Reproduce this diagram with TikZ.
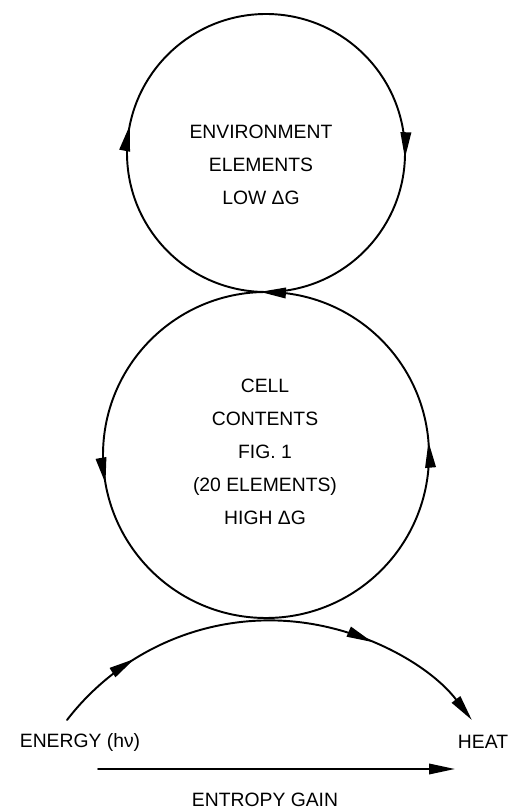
\documentclass[tikz,border=0pt]{standalone}
\usepackage{fontspec}
\setmainfont{Liberation Sans}
\usetikzlibrary{arrows.meta,decorations.markings}
\tikzset{
  >={Triangle[length=5.2mm,width=2.1mm]},
  label text/.style={font=\fontsize{11}{18.8}\selectfont, align=center, inner sep=0pt},
  flow/.style={line width=1.1pt}
}

\begin{document}
\begin{tikzpicture}[line cap=round,line join=round,x=0.02cm,y=0.02cm]
\useasboundingbox (0,0) rectangle (516,809);
\coordinate (envc) at (266,656);
\coordinate (cellc) at (266,354);
\coordinate (arcstart) at (67,89);
\coordinate (gainstart) at (98,40);
\coordinate (gainend) at (455,40);

\draw [flow,postaction={decorate},decoration={markings,
        mark=at position 0.256 with {\arrow{>}},
        mark=at position 0.507 with {\arrow{>}},
        mark=at position 0.782 with {\arrow{>}}}]
  ([shift={(90:139)}]envc) arc[start angle=90,end angle=-270,radius=139];
\draw [flow,postaction={decorate},decoration={markings,
        mark=at position 0.278 with {\arrow{>}},
        mark=at position 0.763 with {\arrow{>}}}]
  ([shift={(90:163)}]cellc) arc[start angle=90,end angle=450,radius=163];
\draw [flow,->,postaction={decorate},decoration={markings,
        mark=at position 0.196 with {\arrow{>}},
        mark=at position 0.727 with {\arrow{>}}}]
  (arcstart) arc[start angle=142.4,end angle=37.6,radius=255.5];
\draw [flow,->] (gainstart) -- (gainend);

\node [label text] (envtext) at (261,644) {ENVIRONMENT\\ELEMENTS\\LOW ΔG};
\node [label text] (celltext) at (265,357) {CELL\\CONTENTS\\FIG. 1\\(20 ELEMENTS)\\HIGH ΔG};
\node [label text] (energy) at (80,67) {ENERGY (hν)};
\node [label text] (heat) at (483,67) {HEAT};
\node [label text] (gain) at (265,9) {ENTROPY GAIN};
\end{tikzpicture}
\end{document}
